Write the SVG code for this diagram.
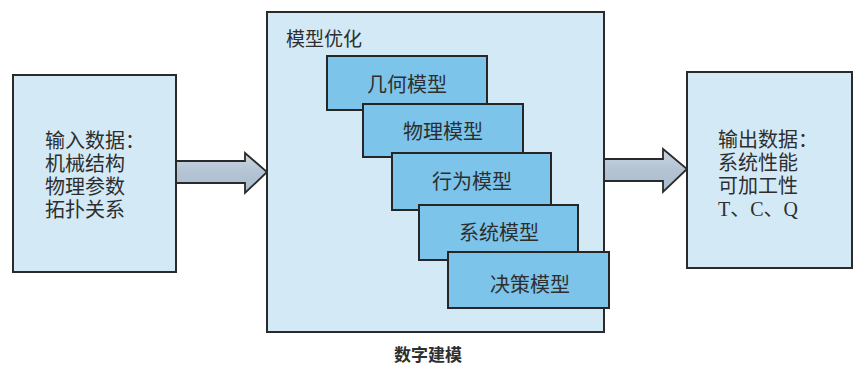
<svg xmlns="http://www.w3.org/2000/svg" width="855" height="367" viewBox="0 0 855 367">
<style>
.box{fill:#d3eaf6;stroke:#2a2a2a;stroke-width:2}
.sub{fill:#7cc4ea;stroke:#262626;stroke-width:2}
.arrow{fill:url(#ag);stroke:#2a2a2a;stroke-width:1.8;stroke-linejoin:miter}
text{font-family:"Noto Sans CJK SC","Noto Sans",sans-serif;fill:#2e2e2e}
.t{font-size:20px}
.m{font-family:"Liberation Sans","Noto Sans CJK SC",sans-serif}
.c{text-anchor:middle}
</style>
<defs>
<linearGradient id="ag" x1="0" y1="0" x2="0" y2="1">
<stop offset="0" stop-color="#c9d6e2"/>
<stop offset="0.5" stop-color="#b3c3d3"/>
<stop offset="1" stop-color="#a9bccd"/>
</linearGradient>
</defs>
<rect width="855" height="367" fill="#ffffff"/>
<g id="connectors">
<path class="arrow" d="M176,161 H245 V153 L267,172 L245,193 V183 H176 Z"/>
<path class="arrow" d="M604,159 H663 V149 L687,169 L663,192 V181 H604 Z"/>
</g>
<g id="input">
<rect class="box" x="13" y="75" width="163" height="197"/>
<text class="t m" x="45" y="148">输入数据：</text>
<text class="t m" x="45" y="171">机械结构</text>
<text class="t m" x="45" y="194">物理参数</text>
<text class="t m" x="45" y="217">拓扑关系</text>
</g>
<g id="model">
<rect class="box" x="267" y="12" width="337" height="320"/>
<text x="286" y="46" style="font-size:19px">模型优化</text>
</g>
<g id="geo">
<rect class="sub" x="327" y="56" width="160" height="54"/>
<text class="t c" x="407" y="92">几何模型</text>
</g>
<g id="phys">
<rect class="sub" x="363" y="104" width="160" height="53"/>
<text class="t c" x="443" y="139">物理模型</text>
</g>
<g id="behav">
<rect class="sub" x="392" y="153" width="159" height="57"/>
<text class="t c" x="472" y="189">行为模型</text>
</g>
<g id="sys">
<rect class="sub" x="419" y="205" width="159" height="55"/>
<text class="t c" x="499" y="240">系统模型</text>
</g>
<g id="dec">
<rect class="sub" x="448" y="252" width="161" height="56"/>
<text class="t c" x="530" y="292">决策模型</text>
</g>
<g id="caption">
<text class="c" x="428" y="361" style="font-size:17px;font-weight:bold">数字建模</text>
</g>
<g id="output">
<rect class="box" x="687" y="72" width="165" height="196"/>
<text class="t m" x="718" y="147">输出数据：</text>
<text class="t m" x="718" y="170">系统性能</text>
<text class="t m" x="718" y="193">可加工性</text>
<text class="t" x="718" y="216" style="font-family:'Liberation Serif','Noto Sans CJK SC',serif">T、C、Q</text>
</g>
</svg>
